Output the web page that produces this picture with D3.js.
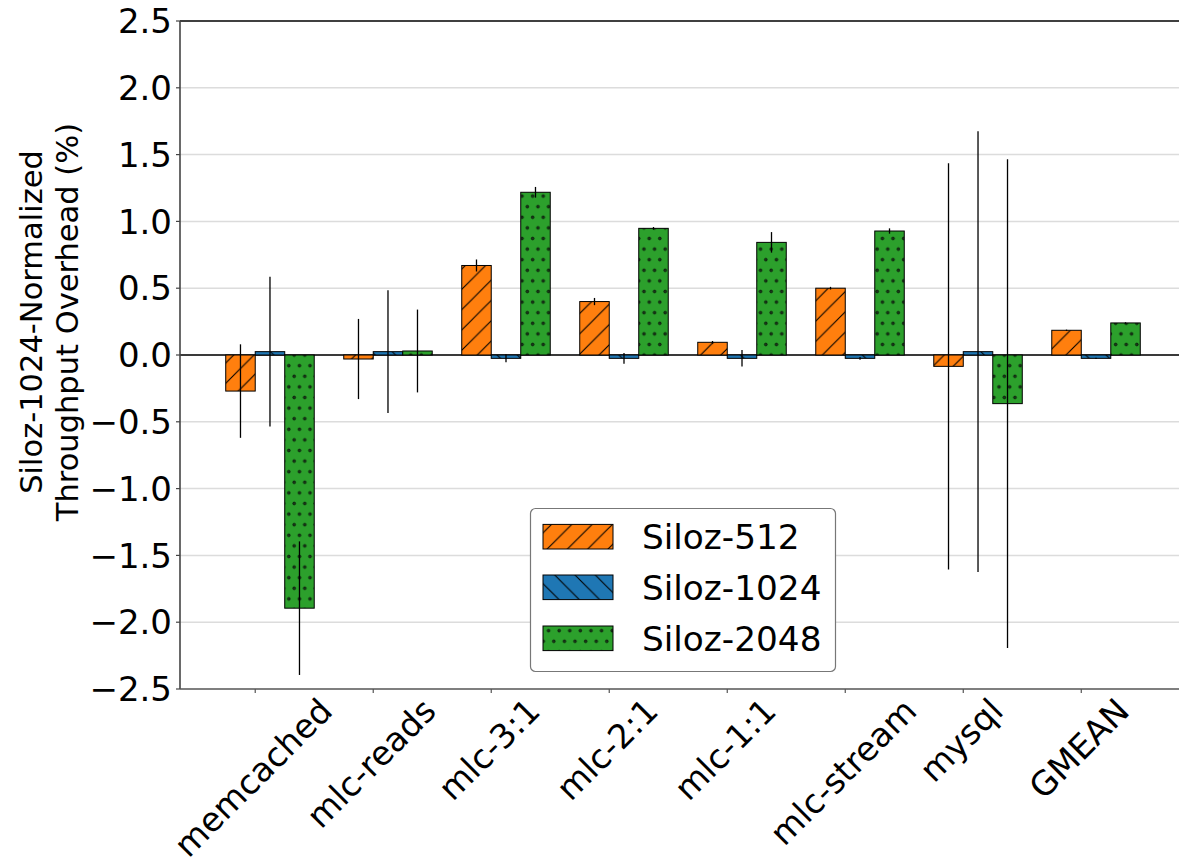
<!DOCTYPE html>
<html>
<head>
<meta charset="utf-8">
<script src="https://cdn.jsdelivr.net/npm/d3@7"></script>
<style>
  html, body { margin: 0; padding: 0; background: #ffffff; }
  svg { display: block; font-family: "DejaVu Sans", sans-serif; }
</style>
</head>
<body>
<svg id="chart" width="1179" height="865"></svg>
<script>
// Benchmarks on the x axis
const categories = ["memcached", "mlc-reads", "mlc-3:1", "mlc-2:1", "mlc-1:1", "mlc-stream", "mysql", "GMEAN"];

// Throughput overhead (%) normalized to Siloz-1024, with error half-widths
const siloz512   = [-0.27, -0.03, 0.67, 0.40, 0.095, 0.50, -0.085, 0.185];
const err512     = [0.35, 0.30, 0.045, 0.027, 0.01, 0.01, 1.52, 0.005];
const siloz1024  = [0.025, 0.025, -0.025, -0.025, -0.025, -0.025, 0.025, -0.025];
const err1024    = [0.56, 0.46, 0.03, 0.04, 0.062, 0.01, 1.65, 0.005];
const siloz2048  = [-1.895, 0.03, 1.218, 0.948, 0.843, 0.928, -0.364, 0.24];
const err2048    = [0.50, 0.31, 0.04, 0.01, 0.077, 0.02, 1.83, 0.005];

const seriesNames = ["Siloz-512", "Siloz-1024", "Siloz-2048"];
const yTicks = [-2.5, -2.0, -1.5, -1.0, -0.5, 0.0, 0.5, 1.0, 1.5, 2.0, 2.5];

const series = [
  { name: seriesNames[0], values: siloz512,  errors: err512,  color: "#ff7f0e", pattern: "hatch-fwd" },
  { name: seriesNames[1], values: siloz1024, errors: err1024, color: "#1f77b4", pattern: "hatch-back" },
  { name: seriesNames[2], values: siloz2048, errors: err2048, color: "#2ca02c", pattern: "hatch-dots" }
];

const svg = d3.select("#chart");
const plotLeft = 180, plotTop = 21, plotBottom = 689, plotRight = 1186;
const barW = 0.25;

// Category i: bars centred at i, i+barW, i+2*barW; tick sits at i+barW/2
const x = d3.scaleLinear().domain([-0.5125, 8.0125]).range([plotLeft, plotRight]);
const y = d3.scaleLinear().domain([-2.5, 2.5]).range([plotBottom, plotTop]);

// Hatch patterns
const defs = svg.append("defs");
const hs = 20.3;
function linePattern(id, color, forward) {
  const p = defs.append("pattern").attr("id", id)
    .attr("patternUnits", "userSpaceOnUse").attr("width", hs).attr("height", hs);
  p.append("rect").attr("width", hs).attr("height", hs).attr("fill", color);
  const d = forward
    ? `M0,${hs} L${hs},0 M${-hs/2},${hs/2} L${hs/2},${-hs/2} M${hs/2},${hs*1.5} L${hs*1.5},${hs/2}`
    : `M0,0 L${hs},${hs} M${-hs/2},${hs/2} L${hs/2},${hs*1.5} M${hs/2},${-hs/2} L${hs*1.5},${hs/2}`;
  p.append("path").attr("d", d).attr("stroke", "#000").attr("stroke-width", 1.1).attr("fill", "none");
}
linePattern("hatch-fwd", "#ff7f0e", true);
linePattern("hatch-back", "#1f77b4", false);
const dw = 10.6;
const dp = defs.append("pattern").attr("id", "hatch-dots")
  .attr("patternUnits", "userSpaceOnUse").attr("width", dw).attr("height", dw * 2);
dp.append("rect").attr("width", dw).attr("height", dw * 2).attr("fill", "#2ca02c");
[[dw / 4, dw / 2], [dw * 3 / 4, dw * 1.5]].forEach(([cx, cy]) => {
  dp.append("circle").attr("cx", cx).attr("cy", cy).attr("r", 1.4)
    .attr("fill", "#1a3a1a").attr("stroke", "#000").attr("stroke-width", 0.6);
});

// Horizontal grid
svg.append("g").selectAll("line")
  .data(yTicks.filter(t => t > -2.5 && t < 2.5))
  .join("line")
  .attr("x1", plotLeft).attr("x2", plotRight)
  .attr("y1", d => y(d)).attr("y2", d => y(d))
  .attr("stroke", "#dcdcdc").attr("stroke-width", 1.5);

// Zero reference line
svg.append("line")
  .attr("x1", plotLeft).attr("x2", plotRight).attr("y1", y(0)).attr("y2", y(0))
  .attr("stroke", "#000").attr("stroke-width", 1.5);

// Bars
series.forEach((s, k) => {
  const g = svg.append("g");
  g.selectAll("rect").data(s.values).join("rect")
    .attr("x", (v, i) => x(i + k * barW - barW / 2))
    .attr("width", x(barW) - x(0))
    .attr("y", v => y(Math.max(0, v)))
    .attr("height", v => Math.abs(y(v) - y(0)))
    .attr("fill", `url(#${s.pattern})`)
    .attr("stroke", "#000").attr("stroke-width", 1);
});

// Error bars
series.forEach((s, k) => {
  svg.append("g").selectAll("line").data(s.values).join("line")
    .attr("x1", (v, i) => x(i + k * barW)).attr("x2", (v, i) => x(i + k * barW))
    .attr("y1", (v, i) => y(v + s.errors[i]))
    .attr("y2", (v, i) => y(v - s.errors[i]))
    .attr("stroke", "#000").attr("stroke-width", 1.3);
});

// Spines
svg.append("line").attr("x1", plotLeft).attr("x2", plotRight).attr("y1", plotTop).attr("y2", plotTop)
  .attr("stroke", "#000").attr("stroke-width", 1.6);
svg.append("line").attr("x1", plotLeft).attr("x2", plotLeft).attr("y1", plotTop).attr("y2", plotBottom)
  .attr("stroke", "#444").attr("stroke-width", 1.6);
svg.append("line").attr("x1", plotLeft).attr("x2", plotRight).attr("y1", plotBottom).attr("y2", plotBottom)
  .attr("stroke", "#555").attr("stroke-width", 1.6);

// Y axis ticks and labels
const fmt = d => d3.format(".1f")(d).replace("-", "\u2212");
const yAxis = svg.append("g");
yAxis.selectAll("line").data(yTicks).join("line")
  .attr("x1", plotLeft - 4).attr("x2", plotLeft).attr("y1", d => y(d)).attr("y2", d => y(d))
  .attr("stroke", "#444").attr("stroke-width", 1.2);
yAxis.selectAll("text").data(yTicks).join("text")
  .attr("x", 172).attr("y", d => y(d)).attr("dy", "0.36em")
  .attr("text-anchor", "end").attr("font-size", 34).attr("fill", "#000")
  .text(fmt);

// Y axis title (two lines)
const yTitle = ["Siloz-1024-Normalized", "Throughput Overhead (%)"];
svg.append("g").selectAll("text").data(yTitle).join("text")
  .attr("transform", (d, i) => `translate(${42 + i * 36},322) rotate(-90)`)
  .attr("text-anchor", "middle").attr("font-size", 30.5).attr("fill", "#000")
  .text(d => d);

// X axis ticks and rotated labels
const xAxis = svg.append("g");
xAxis.selectAll("line").data(categories).join("line")
  .attr("x1", (d, i) => x(i + barW / 2)).attr("x2", (d, i) => x(i + barW / 2))
  .attr("y1", plotBottom).attr("y2", plotBottom + 4)
  .attr("stroke", "#555").attr("stroke-width", 1.2);
const fs = 33.5;
xAxis.selectAll("text").data(categories).join("text")
  .attr("font-size", fs).attr("text-anchor", "middle").attr("dy", "0.26em").attr("fill", "#000")
  .text(d => d)
  .each(function (d, i) {
    const w = this.getComputedTextLength();
    const box = (w + fs) / Math.SQRT2;
    const cx = x(i + barW / 2), cy = 695 + box / 2;
    d3.select(this).attr("transform", `translate(${cx},${cy}) rotate(-45)`);
  });

// Legend
const lg = svg.append("g");
lg.append("rect").attr("x", 530.5).attr("y", 508.5).attr("width", 305).attr("height", 163)
  .attr("rx", 5).attr("fill", "#fff").attr("stroke", "#777").attr("stroke-width", 1.2);
const rowY = [536.7, 587.3, 638.3];
series.forEach((s, k) => {
  lg.append("rect").attr("x", 543).attr("y", rowY[k] - 12.3).attr("width", 70).attr("height", 24.6)
    .attr("fill", `url(#${s.pattern})`).attr("stroke", "#000").attr("stroke-width", 1);
  lg.append("text").attr("x", 642).attr("y", rowY[k]).attr("dy", "0.36em")
    .attr("font-size", 34.3).attr("fill", "#000").text(s.name);
});
</script>
</body>
</html>
